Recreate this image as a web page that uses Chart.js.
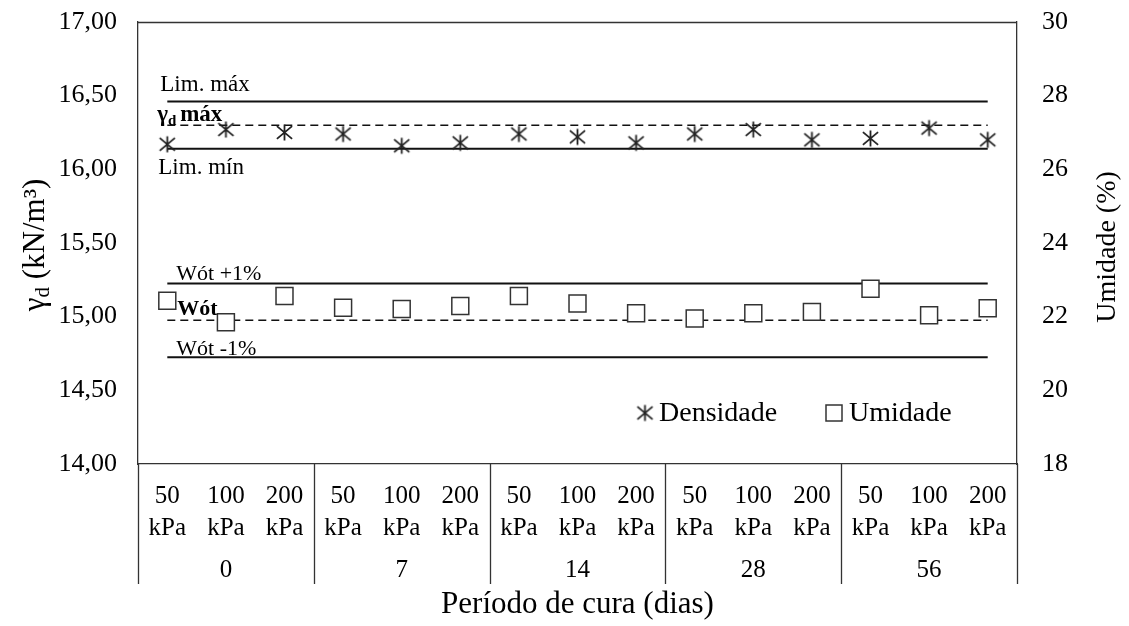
<!DOCTYPE html>
<html>
<head>
<meta charset="utf-8">
<script src="https://cdn.jsdelivr.net/npm/chart.js@4.4.0/dist/chart.umd.min.js"></script>
<style>
  body { margin: 0; background: #fff; }
</style>
</head>
<body>
<canvas id="chart" width="1129" height="626"></canvas>
<script>
// categories: pressure for each cure period
const pressure_labels = [
    ['50', 'kPa'], ['100', 'kPa'], ['200', 'kPa'],
    ['50', 'kPa'], ['100', 'kPa'], ['200', 'kPa'],
    ['50', 'kPa'], ['100', 'kPa'], ['200', 'kPa'],
    ['50', 'kPa'], ['100', 'kPa'], ['200', 'kPa'],
    ['50', 'kPa'], ['100', 'kPa'], ['200', 'kPa']
];
const cure_periods = ['0', '7', '14', '28', '56'];

// dry density (kN/m3), left axis
const densidade = [16.17, 16.27, 16.25, 16.24, 16.16, 16.18, 16.24, 16.22, 16.18, 16.24, 16.27, 16.20, 16.21, 16.28, 16.20];
// moisture (%), right axis
const umidade = [22.43, 21.85, 22.56, 22.24, 22.21, 22.29, 22.56, 22.36, 22.09, 21.95, 22.09, 22.13, 22.76, 22.04, 22.23];

// reference lines
const lim_max = [16.46, 16.46, 16.46, 16.46, 16.46, 16.46, 16.46, 16.46, 16.46, 16.46, 16.46, 16.46, 16.46, 16.46, 16.46];
const gamma_max = [16.30, 16.30, 16.30, 16.30, 16.30, 16.30, 16.30, 16.30, 16.30, 16.30, 16.30, 16.30, 16.30, 16.30, 16.30];
const lim_min = [16.14, 16.14, 16.14, 16.14, 16.14, 16.14, 16.14, 16.14, 16.14, 16.14, 16.14, 16.14, 16.14, 16.14, 16.14];
const wot_plus = [22.9, 22.9, 22.9, 22.9, 22.9, 22.9, 22.9, 22.9, 22.9, 22.9, 22.9, 22.9, 22.9, 22.9, 22.9];
const wot = [21.9, 21.9, 21.9, 21.9, 21.9, 21.9, 21.9, 21.9, 21.9, 21.9, 21.9, 21.9, 21.9, 21.9, 21.9];
const wot_minus = [20.9, 20.9, 20.9, 20.9, 20.9, 20.9, 20.9, 20.9, 20.9, 20.9, 20.9, 20.9, 20.9, 20.9, 20.9];

const FONT = '"Liberation Serif", "Times New Roman", serif';
const INK = '#111';

// asterisk marker (X with a vertical bar)
function makeStar(size, colour) {
    const c = document.createElement('canvas');
    c.width = size; c.height = size;
    const g = c.getContext('2d');
    const m = size / 2, r = size / 2 - 1.5;
    g.strokeStyle = colour;
    g.lineWidth = 1.8;
    g.beginPath();
    g.moveTo(m, m - r); g.lineTo(m, m + r);
    g.moveTo(m - r * 0.95, m - r * 0.8); g.lineTo(m + r * 0.95, m + r * 0.8);
    g.moveTo(m - r * 0.95, m + r * 0.8); g.lineTo(m + r * 0.95, m - r * 0.8);
    g.stroke();
    return c;
}
const star = makeStar(19, '#222');

function refLine(data, axis, dashed) {
    return {
        type: 'line', data: data, yAxisID: axis,
        borderColor: INK, borderWidth: dashed ? 1.5 : 2,
        borderDash: dashed ? [8, 5] : [],
        pointRadius: 0, fill: false, order: 5
    };
}

// keep the plot box edges where the reference has them
function fixVertical(width) {
    return s => {
        s.width = width;
        s.paddingTop = 0;
        s.paddingBottom = 0;
    };
}

const decorations = {
    id: 'decorations',
    afterDraw(chart) {
        const ctx = chart.ctx;
        const area = chart.chartArea;
        const x = chart.scales.x, y = chart.scales.y, y1 = chart.scales.y1;
        ctx.save();

        // top border of the plot box
        ctx.strokeStyle = '#333';
        ctx.lineWidth = 1.3;
        ctx.beginPath();
        ctx.moveTo(area.left, area.top + 0.5);
        ctx.lineTo(area.right, area.top + 0.5);
        ctx.stroke();

        // group dividers and cure period labels under the axis
        const n = pressure_labels.length;
        const per = n / cure_periods.length;
        const edge = i => {
            if (i <= 0) return area.left;
            if (i >= n) return area.right;
            return (x.getPixelForValue(i - 1) + x.getPixelForValue(i)) / 2;
        };
        ctx.beginPath();
        for (let g = 0; g <= cure_periods.length; g++) {
            const px = Math.round(edge(g * per)) + 0.5;
            ctx.moveTo(px, area.bottom);
            ctx.lineTo(px, area.bottom + 120);
        }
        ctx.stroke();

        ctx.fillStyle = '#000';
        ctx.font = '25px ' + FONT;
        ctx.textAlign = 'center';
        ctx.textBaseline = 'middle';
        cure_periods.forEach((p, g) => {
            const cx = (edge(g * per) + edge((g + 1) * per)) / 2;
            ctx.fillText(p, cx, area.bottom + 106);
        });

        // x title
        ctx.font = '31px ' + FONT;
        ctx.fillText('Período de cura (dias)', (area.left + area.right) / 2, 605);

        // left title with subscript
        ctx.save();
        ctx.translate(34, (area.top + area.bottom) / 2 + 2);
        ctx.rotate(-Math.PI / 2);
        ctx.textAlign = 'left';
        ctx.textBaseline = 'alphabetic';
        const big = '31px ' + FONT, small = '21px ' + FONT;
        ctx.font = big; const wg = ctx.measureText('γ').width;
        ctx.font = small; const wd = ctx.measureText('d').width;
        ctx.font = big; const wr = ctx.measureText(' (kN/m³)').width;
        let sx = -(wg + wd + wr) / 2;
        ctx.font = big; ctx.fillText('γ', sx, 10); sx += wg;
        ctx.font = small; ctx.fillText('d', sx, 15); sx += wd;
        ctx.font = big; ctx.fillText(' (kN/m³)', sx, 10);
        ctx.restore();

        // right title
        ctx.save();
        ctx.translate(1108, (area.top + area.bottom) / 2 + 4);
        ctx.rotate(-Math.PI / 2);
        ctx.font = '28px ' + FONT;
        ctx.textAlign = 'center';
        ctx.textBaseline = 'middle';
        ctx.fillText('Umidade (%)', 0, 0);
        ctx.restore();

        // reference line annotations
        const x0 = x.getPixelForValue(0);
        ctx.textAlign = 'left';
        ctx.textBaseline = 'alphabetic';
        ctx.font = '23px ' + FONT;
        ctx.fillText('Lim. máx', x0 - 7, y.getPixelForValue(lim_max[0]) - 11);
        ctx.fillText('Lim. mín', x0 - 9, y.getPixelForValue(lim_min[0]) + 25);
        ctx.font = 'bold 23px ' + FONT;
        let gx = x0 - 10;
        const gy = y.getPixelForValue(gamma_max[0]) - 4;
        ctx.fillText('γ', gx, gy); gx += ctx.measureText('γ').width;
        ctx.font = 'bold 15px ' + FONT;
        ctx.fillText('d', gx, gy + 4); gx += ctx.measureText('d ').width;
        ctx.font = 'bold 23px ' + FONT;
        ctx.fillText('máx', gx, gy);

        ctx.font = '22px ' + FONT;
        ctx.fillText('Wót +1%', x0 + 9, y1.getPixelForValue(wot_plus[0]) - 4);
        ctx.fillText('Wót -1%', x0 + 9, y1.getPixelForValue(wot_minus[0]) - 2);
        ctx.font = 'bold 22px ' + FONT;
        ctx.fillText('Wót', x0 + 10, y1.getPixelForValue(wot[0]) - 5);

        // legend inside the plot
        const ly = area.bottom - 51;
        const lx = area.right - 372;
        ctx.drawImage(star, lx - 9.5, ly - 9.5);
        ctx.font = '28px ' + FONT;
        ctx.textBaseline = 'middle';
        ctx.fillText('Densidade', lx + 14, ly + 1);
        ctx.strokeStyle = '#333';
        ctx.lineWidth = 1.5;
        ctx.fillStyle = '#fff';
        ctx.fillRect(lx + 181, ly - 8, 16, 16);
        ctx.strokeRect(lx + 181, ly - 8, 16, 16);
        ctx.fillStyle = '#000';
        ctx.fillText('Umidade', lx + 204, ly + 1);

        ctx.restore();
    }
};

new Chart(document.getElementById('chart'), {
    type: 'line',
    data: {
        labels: pressure_labels,
        datasets: [
            {
                label: 'Densidade', data: densidade, yAxisID: 'y',
                showLine: false, pointStyle: star, pointRadius: 9,
                order: 1
            },
            {
                label: 'Umidade', data: umidade, yAxisID: 'y1',
                showLine: false, pointStyle: 'rect', pointRadius: 12,
                pointBorderColor: '#333', pointBackgroundColor: '#fff',
                pointBorderWidth: 1.5, order: 0
            },
            refLine(lim_max, 'y', false),
            refLine(gamma_max, 'y', true),
            refLine(lim_min, 'y', false),
            refLine(wot_plus, 'y1', false),
            refLine(wot, 'y1', true),
            refLine(wot_minus, 'y1', false)
        ]
    },
    options: {
        responsive: false,
        animation: false,
        layout: { padding: { top: 22, left: 0, right: 0, bottom: 0 } },
        plugins: { legend: { display: false }, tooltip: { enabled: false } },
        scales: {
            x: {
                offset: true,
                grid: { drawOnChartArea: false, drawTicks: false, offset: true },
                border: { color: '#333', width: 1.3 },
                ticks: {
                    color: '#000', font: { family: FONT, size: 25, lineHeight: 1.28 },
                    padding: 16, autoSkip: false, maxRotation: 0
                },
                afterFit: s => { s.height = 162; }
            },
            y: {
                position: 'left', min: 14, max: 17,
                grid: { display: false },
                border: { color: '#333', width: 1.3 },
                ticks: {
                    stepSize: 0.5, color: '#000', padding: 13,
                    font: { family: FONT, size: 26 },
                    callback: v => v.toFixed(2).replace('.', ',')
                },
                afterFit: fixVertical(138)
            },
            y1: {
                position: 'right', min: 18, max: 30,
                grid: { display: false },
                border: { color: '#333', width: 1.3 },
                ticks: {
                    stepSize: 2, color: '#000', padding: 17,
                    font: { family: FONT, size: 26 }
                },
                afterFit: fixVertical(112)
            }
        }
    },
    plugins: [decorations]
});
</script>
</body>
</html>
